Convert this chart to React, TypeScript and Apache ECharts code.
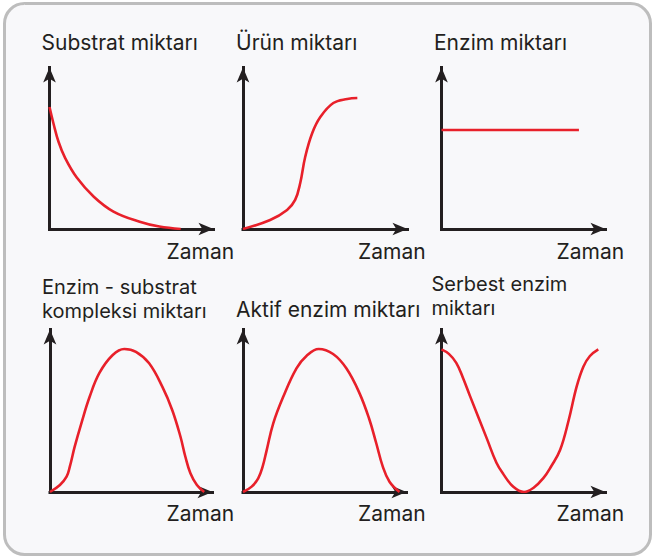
import { useEffect, useRef } from "react";
import * as echarts from "echarts";

// Substrat miktarı – decays from its starting amount to zero
const timeSubstrat = [0, 0.25, 0.55, 0.95, 1.65, 2.7, 3.9, 5.5, 6.7, 8.0];
const substrat = [7.55, 6.5, 5.4, 4.4, 3.2, 2.0, 1.08, 0.45, 0.15, 0];

// Ürün miktarı – S-shaped rise to a plateau
const timeUrun = [0, 1.65, 2.68, 3.17, 3.48, 3.78, 4.21, 4.7, 5.49, 6.34, 6.95];
const urun = [0, 0.56, 1.18, 1.8, 2.85, 4.46, 5.94, 6.93, 7.8, 8.05, 8.11];

// Enzim miktarı – constant
const timeEnzim = [0, 8.38];
const enzim = [6.13, 6.13];

// Enzim - substrat kompleksi miktarı
const timeKompleks = [0, 0.61, 1.02, 1.22, 1.52, 1.93, 2.44, 3.05, 3.86, 4.57, 5.29, 6.1, 6.91, 7.52, 8.03, 8.33, 8.64, 9.04, 9.49];
const kompleks = [0, 0.43, 0.94, 1.56, 2.79, 4.23, 5.86, 7.34, 8.43, 8.8, 8.63, 7.92, 6.48, 5.05, 3.4, 2.17, 1.15, 0.43, 0];

// Aktif enzim miktarı
const timeAktif = [0, 0.53, 0.93, 1.2, 1.45, 1.85, 2.46, 3.27, 3.88, 4.63, 5.51, 6.32, 7.13, 7.74, 8.15, 8.55, 8.96, 9.57];
const aktif = [0, 0.33, 0.84, 1.56, 2.58, 4.23, 5.86, 7.61, 8.37, 8.8, 8.49, 7.61, 6.07, 4.43, 3.0, 1.56, 0.63, 0];

// Serbest enzim miktarı – falls to zero and recovers
const timeSerbest = [0, 0.45, 0.9, 1.3, 1.74, 2.76, 3.35, 3.77, 4.38, 5.03, 5.6, 6.21, 6.7, 7.23, 7.75, 8.24, 8.65, 9.05, 9.56];
const serbest = [8.78, 8.5, 7.95, 7.05, 5.9, 3.3, 1.8, 1.1, 0.32, 0, 0.25, 0.85, 1.6, 2.58, 4.4, 6.48, 7.71, 8.37, 8.78];

const panelTitles = [
  "Substrat miktarı",
  "Ürün miktarı",
  "Enzim miktarı",
  "Enzim - substrat\nkompleksi miktarı",
  "Aktif enzim miktarı",
  "Serbest enzim\nmiktarı",
];
const axisXName = "Zaman";

const panelData = [
  [timeSubstrat, substrat],
  [timeUrun, urun],
  [timeEnzim, enzim],
  [timeKompleks, kompleks],
  [timeAktif, aktif],
  [timeSerbest, serbest],
];

const RED = "#e8202a";
const INK = "#231f20";
const FONT = "Inter, 'Liberation Sans', Arial, sans-serif";

const gridBoxes = [
  { left: 49.5, top: 67.5, width: 164, height: 161.5 },
  { left: 243, top: 67.5, width: 164.5, height: 161.5 },
  { left: 441.5, top: 67.5, width: 164, height: 161.5 },
  { left: 50, top: 329.5, width: 162.5, height: 162.5 },
  { left: 243, top: 329.5, width: 163.5, height: 162.5 },
  { left: 441.5, top: 329.5, width: 164, height: 162.5 },
];

// title text anchors: [x, middle of first line, line height, font size]
const titleAnchors = [
  [41.5, 42, 24, 21],
  [236, 42, 24, 21],
  [434, 42, 24, 21],
  [42, 286.5, 24, 20],
  [236, 309, 24, 21],
  [431.5, 283.5, 24, 20],
];
const nameAnchors = [
  [166.5, 251],
  [358, 251],
  [556.5, 251],
  [166.5, 513],
  [358, 513],
  [556.5, 513],
];

function axisLine() {
  return {
    show: true,
    onZero: false,
    symbol: ["none", "arrow"],
    symbolSize: [9.5, 15],
    lineStyle: { color: INK, width: 3, cap: "square" },
  };
}

function textEl(text: string, x: number, top: number, lineHeight: number, size: number) {
  return {
    type: "text",
    z: 10,
    style: {
      text,
      x,
      y: top,
      fill: INK,
      font: `${size}px ${FONT}`,
      lineHeight,
      align: "left",
      verticalAlign: "top",
      textAlign: "left",
      textVerticalAlign: "top",
    },
  };
}

export default function App() {
  const ref = useRef<HTMLDivElement>(null);

  useEffect(() => {
    if (!ref.current) return;
    const chart = echarts.init(ref.current, null, { renderer: "svg" });

    const texts: any[] = [];
    panelTitles.forEach((title, i) => {
      const [x, mid, lh, size] = titleAnchors[i];
      texts.push(textEl(title, x, mid - lh / 2, lh, size));
      const [nx, ny] = nameAnchors[i];
      texts.push(textEl(axisXName, nx, ny - 12, 24, 21));
    });

    chart.setOption({
      animation: false,
      backgroundColor: "#ffffff",
      grid: gridBoxes.map((g) => ({ ...g, containLabel: false })),
      xAxis: gridBoxes.map((_, i) => ({
        type: "value",
        gridIndex: i,
        min: 0,
        max: 10,
        axisLine: axisLine(),
        axisTick: { show: false },
        axisLabel: { show: false },
        splitLine: { show: false },
      })),
      yAxis: gridBoxes.map((_, i) => ({
        type: "value",
        gridIndex: i,
        min: 0,
        max: 10,
        axisLine: axisLine(),
        axisTick: { show: false },
        axisLabel: { show: false },
        splitLine: { show: false },
      })),
      series: panelData.map(([xs, ys], i) => ({
        type: "line",
        xAxisIndex: i,
        yAxisIndex: i,
        data: xs.map((x, k) => [x, ys[k]]),
        smooth: i === 2 ? false : 0.4,
        showSymbol: false,
        lineStyle: { color: RED, width: 2.6 },
        z: 3,
      })),
      graphic: [
        {
          type: "rect",
          z: -10,
          shape: { x: 4.5, y: 3.5, width: 646, height: 551, r: 20 },
          style: { fill: "#f8f8fa", stroke: "#bdbdbd", lineWidth: 3 },
        },
        ...texts,
      ],
    });

    return () => chart.dispose();
  }, []);

  return (
    <div
      ref={ref}
      style={{ position: "absolute", left: 0, top: 0, width: 655, height: 558 }}
    />
  );
}
